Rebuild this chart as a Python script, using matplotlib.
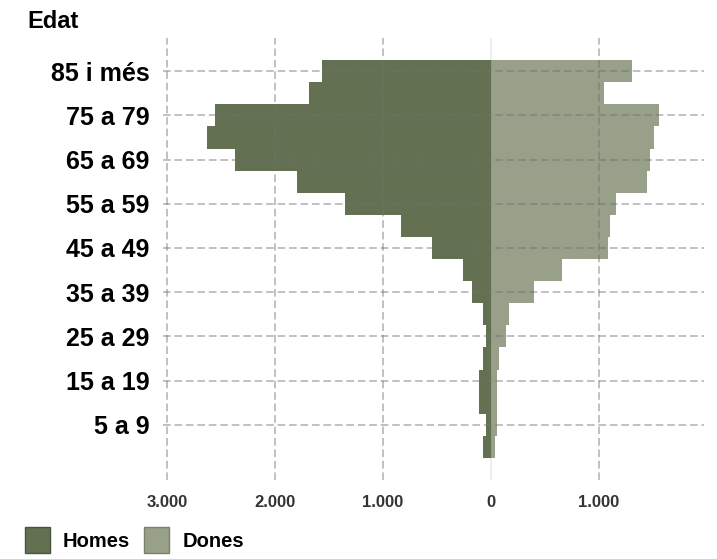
import matplotlib
matplotlib.use("Agg")
import matplotlib.pyplot as plt
from matplotlib.patches import Patch

plt.rcParams['font.family'] = ['Liberation Sans', 'DejaVu Sans']

ages = ['0 a 4', '5 a 9', '10 a 14', '15 a 19', '20 a 24', '25 a 29', '30 a 34',
        '35 a 39', '40 a 44', '45 a 49', '50 a 54', '55 a 59', '60 a 64', '65 a 69',
        '70 a 74', '75 a 79', '80 a 84', '85 i més']
homes = [71, 49, 108, 108, 71, 49, 71, 179, 255, 549, 830, 1349, 1796, 2370,
         2630, 2556, 1682, 1568]
dones = [40, 58, 58, 58, 74, 136, 167, 398, 655, 1080, 1099, 1155, 1447, 1472,
         1506, 1559, 1043, 1303]
xticks = [-3000, -2000, -1000, 0, 1000]
xticklabels = ['3.000', '2.000', '1.000', '0', '1.000']

c_h = '#637052'
c_d = '#98a08a'

fig = plt.figure(figsize=(7.17, 5.59), dpi=100)
ax = fig.add_axes([0.2273, 0.1413, 0.7546, 0.7907])

y = list(range(len(ages)))
ax.barh(y, [-v for v in homes], height=1.0, color=c_h, linewidth=0, zorder=2)
ax.barh(y, dones, height=1.0, color=c_d, linewidth=0, zorder=2)

ax.set_xlim(-3037, 1972)
ax.set_ylim(-1.5, 18.5)

ax.set_yticks(y[1::2])
ax.set_yticklabels(ages[1::2], fontsize=18, fontweight='bold', color='black')
ax.set_xticks(xticks)
ax.set_xticklabels(xticklabels, fontsize=12, fontweight='bold', color='#333333')
ax.tick_params(axis='both', length=0)
ax.tick_params(axis='y', pad=9.5)
ax.tick_params(axis='x', pad=11)

for s in ax.spines.values():
    s.set_visible(False)

ax.set_axisbelow(False)
ax.grid(True, linestyle=(0, (5, 2.5)), color='#707070', alpha=0.55, linewidth=1.1, zorder=3)
gl = ax.xaxis.get_gridlines()
gl[3].set_alpha(0.15)
gl[3].set_linestyle('-')

fig.text(27 / 717, 1 - 28.5 / 559, 'Edat', fontsize=17, fontweight='bold',
         ha='left', va='baseline')

handles = [Patch(facecolor=c_h, edgecolor='#4a5540', linewidth=1, label='Homes'),
           Patch(facecolor=c_d, edgecolor='#7a826e', linewidth=1, label='Dones')]
fig.legend(handles=handles, loc='upper left', bbox_to_anchor=(25 / 717, 1 - 527 / 559),
           ncol=2, frameon=False, prop={'size': 14.5, 'weight': 'bold'},
           handlelength=1.24, handleheight=1.64, handletextpad=0.65, columnspacing=0.7,
           borderpad=0, borderaxespad=0)

fig.savefig('out.png', dpi=100)
